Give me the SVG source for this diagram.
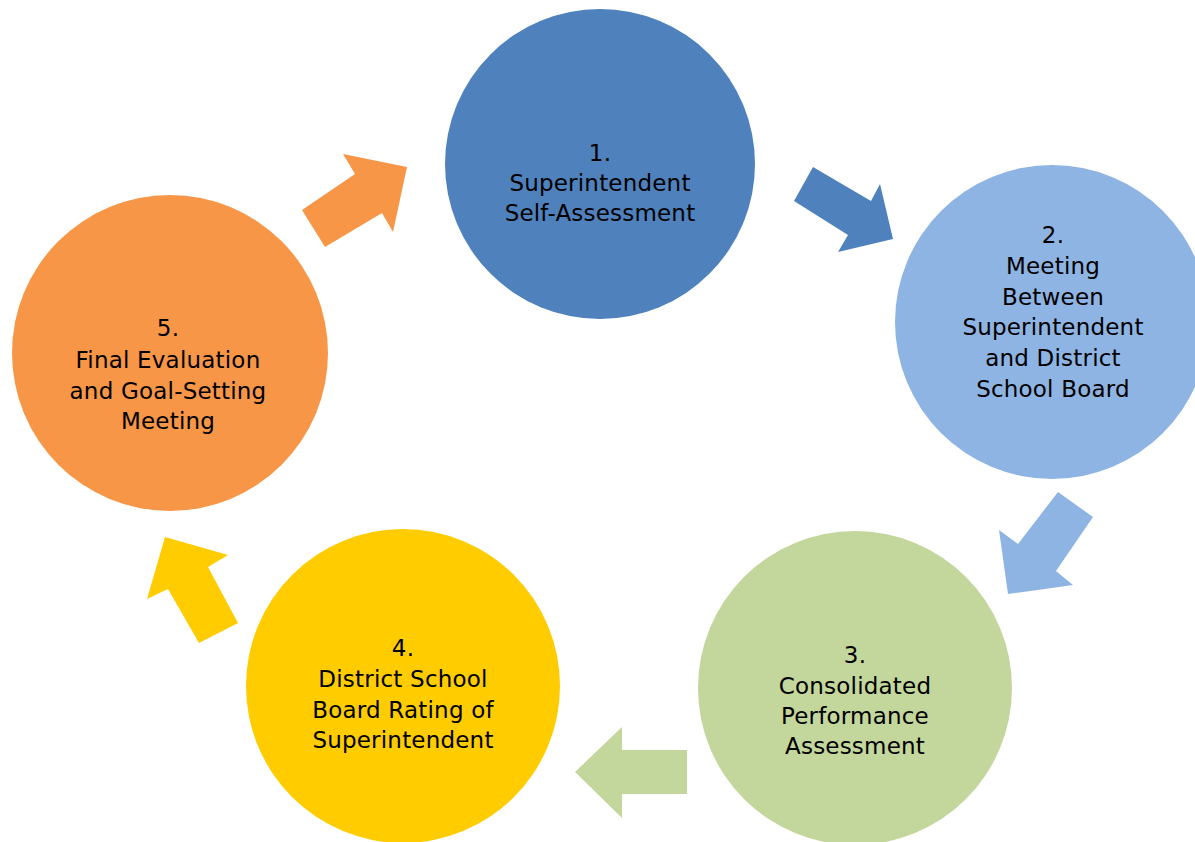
<svg xmlns="http://www.w3.org/2000/svg" width="1195" height="842" viewBox="0 0 1195 842">
  <style>
    .lbl { font-family: "DejaVu Sans", "Liberation Sans", sans-serif; font-size: 23px; letter-spacing: 0.2px; fill: #000; text-anchor: middle; }
  </style>
  <rect width="1195" height="842" fill="#fff"/>

  <!-- connectors: block arrows between the stages -->
  <g id="connectors">
    <polygon fill="#4F81BD" points="813,167 871,201 880,184 893,239 838,252 848,235 794,201"/>
    <polygon fill="#8EB4E3" points="1058,492 1093,517 1056,571 1073,585 1008,594 999,530 1018,544"/>
    <polygon fill="#C3D69B" points="687,750 687,794 622,794 622,818 575,772 622,727 622,750"/>
    <polygon fill="#FFCC00" points="238,623 199,643 168,589 147,599 165,537 228,555 208,567"/>
    <polygon fill="#F79646" points="302,210 325,247 382,213 393,232 407,167 343,154 355,174"/>
  </g>

  <g id="node1">
    <circle cx="600" cy="164" r="155" fill="#4F81BD"/>
    <text class="lbl" x="600" y="161">1.</text>
    <text class="lbl" x="600" y="191">Superintendent</text>
    <text class="lbl" x="600" y="221">Self-Assessment</text>
  </g>

  <g id="node2">
    <circle cx="1052" cy="322" r="157" fill="#8EB4E3"/>
    <text class="lbl" x="1053" y="243">2.</text>
    <text class="lbl" x="1053" y="274">Meeting</text>
    <text class="lbl" x="1053" y="305">Between</text>
    <text class="lbl" x="1053" y="335">Superintendent</text>
    <text class="lbl" x="1053" y="366">and District</text>
    <text class="lbl" x="1053" y="397">School Board</text>
  </g>

  <g id="node3">
    <circle cx="855" cy="688" r="157" fill="#C3D69B"/>
    <text class="lbl" x="855" y="663">3.</text>
    <text class="lbl" x="855" y="694">Consolidated</text>
    <text class="lbl" x="855" y="724">Performance</text>
    <text class="lbl" x="855" y="754">Assessment</text>
  </g>

  <g id="node4">
    <circle cx="403" cy="686" r="157" fill="#FFCC00"/>
    <text class="lbl" x="403" y="656">4.</text>
    <text class="lbl" x="403" y="687">District School</text>
    <text class="lbl" x="403" y="718">Board Rating of</text>
    <text class="lbl" x="403" y="748">Superintendent</text>
  </g>

  <g id="node5">
    <circle cx="170" cy="353" r="158" fill="#F79646"/>
    <text class="lbl" x="168" y="336">5.</text>
    <text class="lbl" x="168" y="368">Final Evaluation</text>
    <text class="lbl" x="168" y="399">and Goal-Setting</text>
    <text class="lbl" x="168" y="429">Meeting</text>
  </g>
</svg>
